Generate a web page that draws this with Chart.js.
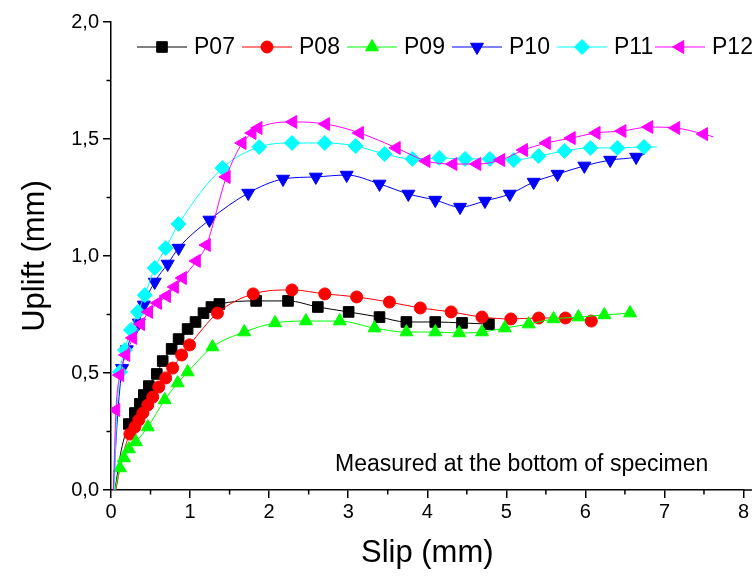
<!DOCTYPE html>
<html>
<head>
<meta charset="utf-8">
<script src="https://cdn.jsdelivr.net/npm/chart.js@4.4.0/dist/chart.umd.min.js"></script>
<style>
    html, body { margin: 0; padding: 0; background: #fff; }
    #wrap { width: 752px; height: 582px; }
</style>
</head>
<body>
<div id="wrap"><canvas id="chart" width="752" height="582"></canvas></div>
<script>
const p07X = [0.05, 0.13, 0.226, 0.302, 0.365, 0.415, 0.478, 0.579, 0.654, 0.767, 0.855, 0.969, 1.069, 1.170, 1.270, 1.371, 1.836, 2.239, 2.616, 3.006, 3.396, 3.736, 4.101, 4.440, 4.780];
const p07Y = [0, 0.17, 0.282, 0.329, 0.368, 0.406, 0.444, 0.496, 0.551, 0.603, 0.645, 0.688, 0.718, 0.756, 0.782, 0.795, 0.808, 0.808, 0.782, 0.761, 0.739, 0.718, 0.718, 0.714, 0.709];

const p08X = [0.06, 0.15, 0.239, 0.302, 0.352, 0.403, 0.465, 0.528, 0.604, 0.692, 0.780, 0.893, 0.994, 1.346, 1.799, 2.289, 2.704, 3.107, 3.522, 3.912, 4.302, 4.692, 5.057, 5.409, 5.748, 6.075];
const p08Y = [0, 0.15, 0.239, 0.269, 0.299, 0.329, 0.363, 0.397, 0.440, 0.479, 0.521, 0.577, 0.620, 0.756, 0.838, 0.855, 0.838, 0.825, 0.803, 0.778, 0.761, 0.739, 0.731, 0.735, 0.735, 0.722];

const p09X = [0.05, 0.113, 0.164, 0.226, 0.314, 0.465, 0.679, 0.843, 0.969, 1.283, 1.686, 2.075, 2.465, 2.893, 3.333, 3.736, 4.101, 4.403, 4.692, 4.981, 5.283, 5.597, 5.912, 6.239, 6.566];
const p09Y = [0, 0.094, 0.137, 0.175, 0.205, 0.269, 0.385, 0.457, 0.504, 0.611, 0.675, 0.714, 0.722, 0.722, 0.692, 0.675, 0.675, 0.671, 0.675, 0.692, 0.709, 0.731, 0.739, 0.748, 0.756];

const p10X = [0.03, 0.08, 0.14, 0.20, 0.27, 0.352, 0.415, 0.553, 0.717, 0.855, 1.245, 1.736, 2.176, 2.591, 2.981, 3.396, 3.761, 4.101, 4.415, 4.730, 5.044, 5.346, 5.648, 5.987, 6.314, 6.642, 6.755];
const p10Y = [0, 0.30, 0.52, 0.60, 0.67, 0.714, 0.791, 0.889, 0.966, 1.034, 1.154, 1.269, 1.329, 1.338, 1.346, 1.308, 1.265, 1.239, 1.209, 1.235, 1.265, 1.316, 1.350, 1.385, 1.410, 1.423, 1.436];

const p11X = [0.04, 0.07, 0.113, 0.176, 0.252, 0.340, 0.428, 0.553, 0.692, 0.855, 1.409, 1.874, 2.289, 2.704, 3.094, 3.459, 3.811, 4.151, 4.478, 4.792, 5.094, 5.409, 5.736, 6.063, 6.403, 6.742, 6.906];
const p11Y = [0, 0.30, 0.504, 0.598, 0.684, 0.761, 0.833, 0.949, 1.034, 1.137, 1.376, 1.466, 1.483, 1.483, 1.470, 1.436, 1.415, 1.419, 1.415, 1.415, 1.410, 1.427, 1.449, 1.462, 1.462, 1.466, 1.466];

const p12X = [0.03, 0.063, 0.113, 0.189, 0.277, 0.377, 0.478, 0.591, 0.704, 0.805, 0.906, 1.082, 1.208, 1.459, 1.660, 1.786, 1.862, 2.302, 2.717, 3.145, 3.610, 3.987, 4.327, 4.629, 4.931, 5.220, 5.509, 5.824, 6.138, 6.465, 6.805, 7.145, 7.497, 7.62];
const p12Y = [0, 0.342, 0.491, 0.577, 0.650, 0.709, 0.761, 0.799, 0.829, 0.868, 0.906, 0.979, 1.047, 1.338, 1.483, 1.526, 1.547, 1.573, 1.564, 1.526, 1.462, 1.406, 1.393, 1.393, 1.410, 1.453, 1.483, 1.504, 1.526, 1.534, 1.551, 1.547, 1.521, 1.509];

const seriesLabels = ['P07', 'P08', 'P09', 'P10', 'P11', 'P12'];
const xTicks = [0, 1, 2, 3, 4, 5, 6, 7, 8];
const yTicks = [0, 0.5, 1.0, 1.5, 2.0];

const FONT = "'Liberation Sans', Arial, sans-serif";

// lead = unmarked points at the start of a curve, openEnd = last point has no marker
const series = [
    { xs: p07X, ys: p07Y, color: '#000000', style: 'rect', radius: 7.5, rotation: 0, lead: 2, openEnd: false },
    { xs: p08X, ys: p08Y, color: '#ff0000', style: 'circle', radius: 6, rotation: 0, lead: 2, openEnd: false },
    { xs: p09X, ys: p09Y, color: '#00ff00', style: 'triangle', radius: 7.5, rotation: 0, lead: 1, openEnd: false },
    { xs: p10X, ys: p10Y, color: '#0000ff', style: 'triangle', radius: 7.5, rotation: 180, lead: 2, openEnd: true },
    { xs: p11X, ys: p11Y, color: '#00ffff', style: 'rectRot', radius: 7.5, rotation: 0, lead: 2, openEnd: true },
    { xs: p12X, ys: p12Y, color: '#ff00ff', style: 'triangle', radius: 7.5, rotation: -90, lead: 1, openEnd: true }
];

const datasets = series.map((s, i) => ({
    label: seriesLabels[i],
    data: s.xs.map((x, j) => ({ x: x, y: s.ys[j] })),
    borderColor: s.color,
    backgroundColor: s.color,
    borderWidth: 1,
    pointStyle: s.style,
    rotation: s.rotation,
    pointBorderWidth: 1,
    pointRadius: ctx => (ctx.dataIndex < s.lead || (s.openEnd && ctx.dataIndex === s.xs.length - 1)) ? 0 : s.radius,
    cubicInterpolationMode: 'monotone',
    order: series.length - i
}));

// minor ticks + x tick labels (the last label is allowed to run off the canvas, like the original)
const axisExtras = {
    id: 'axisExtras',
    afterDraw(chart) {
        const { ctx, scales: { x, y } } = chart;
        ctx.save();
        ctx.strokeStyle = '#000';
        ctx.lineWidth = 1.5;
        ctx.beginPath();
        for (let i = 0; i < xTicks.length - 1; i++) {
            const px = x.getPixelForValue((xTicks[i] + xTicks[i + 1]) / 2);
            ctx.moveTo(px, y.bottom);
            ctx.lineTo(px, y.bottom + 4.5);
        }
        for (let i = 0; i < yTicks.length - 1; i++) {
            const py = y.getPixelForValue((yTicks[i] + yTicks[i + 1]) / 2);
            ctx.moveTo(x.left, py);
            ctx.lineTo(x.left - 4.5, py);
        }
        ctx.moveTo(x.right, y.bottom);
        ctx.lineTo(chart.width, y.bottom);
        ctx.stroke();

        ctx.fillStyle = '#000';
        ctx.font = '20px ' + FONT;
        ctx.textAlign = 'center';
        ctx.textBaseline = 'middle';
        xTicks.forEach(v => ctx.fillText(String(v), x.getPixelForValue(v), y.bottom + 22));
        ctx.restore();
    }
};

// legend row inside the plot + note text
const legendX = [137, 242, 347, 452, 557, 655];
const inlineLegend = {
    id: 'inlineLegend',
    afterDatasetsDraw(chart) {
        const ctx = chart.ctx;
        const ly = 47;
        ctx.save();
        series.forEach((s, i) => {
            const x0 = legendX[i];
            ctx.strokeStyle = s.color;
            ctx.fillStyle = s.color;
            ctx.lineWidth = 1;
            ctx.beginPath();
            ctx.moveTo(x0, ly);
            ctx.lineTo(x0 + 50, ly);
            ctx.stroke();
            Chart.helpers.drawPoint(ctx, {
                pointStyle: s.style, radius: s.radius, rotation: s.rotation, borderWidth: 1
            }, x0 + 25, ly);
            ctx.fillStyle = '#000';
            ctx.font = '23px ' + FONT;
            ctx.textBaseline = 'middle';
            ctx.textAlign = 'left';
            ctx.fillText(seriesLabels[i], x0 + 57, ly + 1);
        });
        ctx.font = '23px ' + FONT;
        ctx.fillStyle = '#000';
        ctx.textBaseline = 'middle';
        ctx.fillText('Measured at the bottom of specimen', 335, 465);
        ctx.restore();
    }
};

new Chart(document.getElementById('chart').getContext('2d'), {
    type: 'line',
    data: { datasets: datasets },
    options: {
        responsive: false,
        animation: false,
        events: [],
        layout: { padding: { top: 22, right: 2, left: 0, bottom: 0 } },
        plugins: {
            legend: { display: false },
            tooltip: { enabled: false }
        },
        scales: {
            x: {
                type: 'linear',
                min: 0,
                max: 8,
                afterBuildTicks: s => { s.ticks = xTicks.map(v => ({ value: v })); },
                ticks: { display: false },
                grid: { drawOnChartArea: false, drawTicks: true, tickLength: 8, color: '#000', lineWidth: 1.5 },
                border: { display: true, color: '#000', width: 1.5 },
                title: {
                    display: true,
                    text: 'Slip (mm)',
                    color: '#000',
                    font: { family: FONT, size: 31 },
                    padding: { top: 0, bottom: 10 }
                },
                afterFit: s => { s.height = 92; }
            },
            y: {
                type: 'linear',
                min: 0,
                max: 2,
                afterBuildTicks: s => { s.ticks = yTicks.map(v => ({ value: v })); },
                ticks: {
                    color: '#000',
                    font: { family: FONT, size: 20 },
                    padding: 4,
                    callback: v => v.toFixed(1).replace('.', ',')
                },
                grid: { drawOnChartArea: false, drawTicks: true, tickLength: 8, color: '#000', lineWidth: 1.5 },
                border: { display: true, color: '#000', width: 1.5 },
                title: {
                    display: true,
                    text: 'Uplift (mm)',
                    color: '#000',
                    font: { family: FONT, size: 31 },
                    padding: { top: 17, bottom: 0 }
                },
                afterFit: s => { s.width = 111; }
            }
        }
    },
    plugins: [axisExtras, inlineLegend]
});
</script>
</body>
</html>
